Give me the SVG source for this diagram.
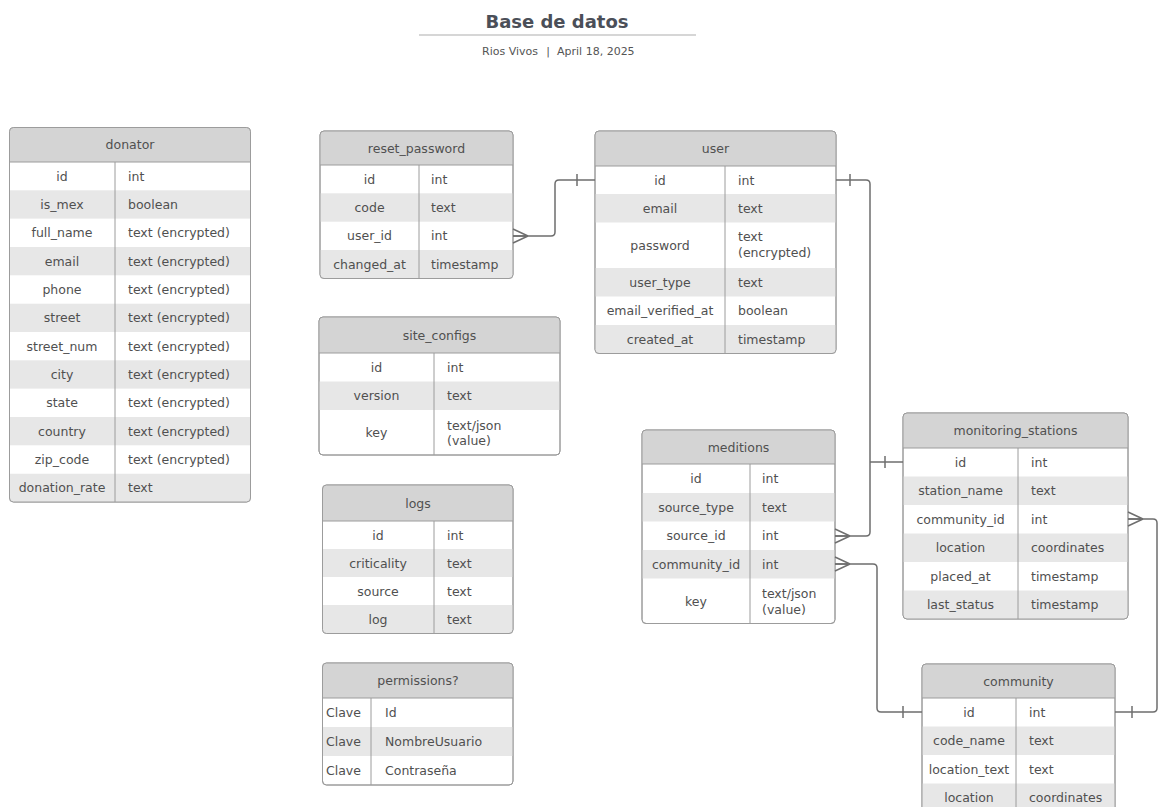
<svg xmlns="http://www.w3.org/2000/svg" width="1159" height="807" viewBox="0 0 1159 807">
  <style>
    .frame { fill: #ffffff; stroke: #9c9c9c; stroke-width: 1; }
    .edge { fill: none; stroke: #9c9c9c; stroke-width: 1; }
    .hdr { fill: #d4d4d4; }
    .alt { fill: #e7e7e7; }
    .sep { stroke: #9c9c9c; stroke-width: 1; }
    .t { font-family: "DejaVu Sans", "Liberation Sans", sans-serif; font-size: 12.5px; fill: #505050; }
    .c { text-anchor: middle; }
    .conn { fill: none; stroke: #6e6e6e; stroke-width: 1.5; }
    .title { font-family: "DejaVu Sans", "Liberation Sans", sans-serif; font-size: 18px; font-weight: bold; fill: #4b4f58; text-anchor: middle; }
    .sub { font-family: "DejaVu Sans", "Liberation Sans", sans-serif; font-size: 11px; fill: #555; }
  </style>

  <rect width="1159" height="807" fill="#ffffff"/>

  <!-- title block -->
  <g id="title">
    <text class="title" x="557" y="28">Base de datos</text>
    <line x1="419" y1="35" x2="696" y2="35" stroke="#c9c9c9" stroke-width="1.5"/>
    <text class="sub" x="538" y="55" text-anchor="end">Rios Vivos</text>
    <text class="sub" x="548" y="55" text-anchor="middle">|</text>
    <text class="sub" x="557" y="55">April 18, 2025</text>
  </g>

  <!-- donator -->
  <g id="donator">
    <rect class="frame" x="9.5" y="127.5" width="241" height="374.5" rx="4"/>
    <path class="hdr" d="M9.5,162 V131.5 Q9.5,127.5 13.5,127.5 H246.5 Q250.5,127.5 250.5,131.5 V162 Z"/>
    <rect class="alt" x="9.5" y="190.3" width="241" height="28.3"/>
    <rect class="alt" x="9.5" y="247" width="241" height="28.3"/>
    <rect class="alt" x="9.5" y="303.7" width="241" height="28.3"/>
    <rect class="alt" x="9.5" y="360.3" width="241" height="28.3"/>
    <rect class="alt" x="9.5" y="417" width="241" height="28.3"/>
    <path class="alt" d="M9.5,473.7 V498 Q9.5,502 13.5,502 H246.5 Q250.5,502 250.5,498 V473.7 Z"/>
    <line class="sep" x1="9.5" y1="162" x2="250.5" y2="162"/>
    <line class="sep" x1="115" y1="162" x2="115" y2="502"/>
    <rect class="edge" x="9.5" y="127.5" width="241" height="374.5" rx="4"/>
    <text class="t c" x="130" y="149">donator</text>
    <text class="t c" x="62" y="180.7">id</text><text class="t" x="128" y="180.7">int</text>
    <text class="t c" x="62" y="209">is_mex</text><text class="t" x="128" y="209">boolean</text>
    <text class="t c" x="62" y="237.3">full_name</text><text class="t" x="128" y="237.3">text (encrypted)</text>
    <text class="t c" x="62" y="265.7">email</text><text class="t" x="128" y="265.7">text (encrypted)</text>
    <text class="t c" x="62" y="294">phone</text><text class="t" x="128" y="294">text (encrypted)</text>
    <text class="t c" x="62" y="322.3">street</text><text class="t" x="128" y="322.3">text (encrypted)</text>
    <text class="t c" x="62" y="350.7">street_num</text><text class="t" x="128" y="350.7">text (encrypted)</text>
    <text class="t c" x="62" y="379">city</text><text class="t" x="128" y="379">text (encrypted)</text>
    <text class="t c" x="62" y="407.3">state</text><text class="t" x="128" y="407.3">text (encrypted)</text>
    <text class="t c" x="62" y="435.7">country</text><text class="t" x="128" y="435.7">text (encrypted)</text>
    <text class="t c" x="62" y="464">zip_code</text><text class="t" x="128" y="464">text (encrypted)</text>
    <text class="t c" x="62" y="492.3">donation_rate</text><text class="t" x="128" y="492.3">text</text>
  </g>

  <!-- reset_password -->
  <g id="reset_password">
    <rect class="frame" x="320" y="131" width="193" height="147.5" rx="4"/>
    <path class="hdr" d="M320,165 V135 Q320,131 324,131 H509 Q513,131 513,135 V165 Z"/>
    <rect class="alt" x="320" y="193.3" width="193" height="28.4"/>
    <path class="alt" d="M320,250 V274.5 Q320,278.5 324,278.5 H509 Q513,278.5 513,274.5 V250 Z"/>
    <line class="sep" x1="320" y1="165" x2="513" y2="165"/>
    <line class="sep" x1="419" y1="165" x2="419" y2="278.5"/>
    <rect class="edge" x="320" y="131" width="193" height="147.5" rx="4"/>
    <text class="t c" x="416.5" y="152.5">reset_password</text>
    <text class="t c" x="369.5" y="183.7">id</text><text class="t" x="431" y="183.7">int</text>
    <text class="t c" x="369.5" y="212">code</text><text class="t" x="431" y="212">text</text>
    <text class="t c" x="369.5" y="240.3">user_id</text><text class="t" x="431" y="240.3">int</text>
    <text class="t c" x="369.5" y="268.7">changed_at</text><text class="t" x="431" y="268.7">timestamp</text>
  </g>

  <!-- user -->
  <g id="user">
    <rect class="frame" x="595" y="131" width="241" height="222.5" rx="4"/>
    <path class="hdr" d="M595,166 V135 Q595,131 599,131 H832 Q836,131 836,135 V166 Z"/>
    <rect class="alt" x="595" y="194" width="241" height="28.5"/>
    <rect class="alt" x="595" y="268" width="241" height="28.5"/>
    <path class="alt" d="M595,325 V349.5 Q595,353.5 599,353.5 H832 Q836,353.5 836,349.5 V325 Z"/>
    <line class="sep" x1="595" y1="166" x2="836" y2="166"/>
    <line class="sep" x1="725" y1="166" x2="725" y2="353.5"/>
    <rect class="edge" x="595" y="131" width="241" height="222.5" rx="4"/>
    <text class="t c" x="715.5" y="153">user</text>
    <text class="t c" x="660" y="184.5">id</text><text class="t" x="738" y="184.5">int</text>
    <text class="t c" x="660" y="212.8">email</text><text class="t" x="738" y="212.8">text</text>
    <text class="t c" x="660" y="249.8">password</text><text class="t" x="738" y="241">text</text><text class="t" x="738" y="256.5">(encrypted)</text>
    <text class="t c" x="660" y="286.8">user_type</text><text class="t" x="738" y="286.8">text</text>
    <text class="t c" x="660" y="315.3">email_verified_at</text><text class="t" x="738" y="315.3">boolean</text>
    <text class="t c" x="660" y="343.8">created_at</text><text class="t" x="738" y="343.8">timestamp</text>
  </g>

  <!-- site_configs -->
  <g id="site_configs">
    <rect class="frame" x="319" y="317" width="241" height="138" rx="4"/>
    <path class="hdr" d="M319,353 V321 Q319,317 323,317 H556 Q560,317 560,321 V353 Z"/>
    <rect class="alt" x="319" y="381.5" width="241" height="28.5"/>
    <line class="sep" x1="319" y1="353" x2="560" y2="353"/>
    <line class="sep" x1="434" y1="353" x2="434" y2="455"/>
    <rect class="edge" x="319" y="317" width="241" height="138" rx="4"/>
    <text class="t c" x="439.5" y="339.5">site_configs</text>
    <text class="t c" x="376.5" y="371.8">id</text><text class="t" x="447" y="371.8">int</text>
    <text class="t c" x="376.5" y="400.3">version</text><text class="t" x="447" y="400.3">text</text>
    <text class="t c" x="376.5" y="437">key</text><text class="t" x="447" y="429.5">text/json</text><text class="t" x="447" y="445">(value)</text>
  </g>

  <!-- logs -->
  <g id="logs">
    <rect class="frame" x="322.5" y="485" width="190.5" height="148.5" rx="4"/>
    <path class="hdr" d="M322.5,521 V489 Q322.5,485 326.5,485 H509 Q513,485 513,489 V521 Z"/>
    <rect class="alt" x="322.5" y="549" width="190.5" height="28"/>
    <path class="alt" d="M322.5,605 V629.5 Q322.5,633.5 326.5,633.5 H509 Q513,633.5 513,629.5 V605 Z"/>
    <line class="sep" x1="322.5" y1="521" x2="513" y2="521"/>
    <line class="sep" x1="434" y1="521" x2="434" y2="633.5"/>
    <rect class="edge" x="322.5" y="485" width="190.5" height="148.5" rx="4"/>
    <text class="t c" x="418" y="507.5">logs</text>
    <text class="t c" x="378" y="539.5">id</text><text class="t" x="447" y="539.5">int</text>
    <text class="t c" x="378" y="567.5">criticality</text><text class="t" x="447" y="567.5">text</text>
    <text class="t c" x="378" y="595.5">source</text><text class="t" x="447" y="595.5">text</text>
    <text class="t c" x="378" y="623.5">log</text><text class="t" x="447" y="623.5">text</text>
  </g>

  <!-- permissions? -->
  <g id="permissions">
    <rect class="frame" x="322.5" y="663" width="190.5" height="122" rx="4"/>
    <path class="hdr" d="M322.5,698 V667 Q322.5,663 326.5,663 H509 Q513,663 513,667 V698 Z"/>
    <rect class="alt" x="322.5" y="727" width="190.5" height="29"/>
    <line class="sep" x1="322.5" y1="698" x2="513" y2="698"/>
    <line class="sep" x1="371" y1="698" x2="371" y2="785"/>
    <rect class="edge" x="322.5" y="663" width="190.5" height="122" rx="4"/>
    <text class="t c" x="418" y="685">permissions?</text>
    <text class="t" x="326" y="717">Clave</text><text class="t" x="385" y="717">Id</text>
    <text class="t" x="326" y="746">Clave</text><text class="t" x="385" y="746">NombreUsuario</text>
    <text class="t" x="326" y="775">Clave</text><text class="t" x="385" y="775">Contraseña</text>
  </g>

  <!-- meditions -->
  <g id="meditions">
    <rect class="frame" x="642" y="430" width="193" height="193.5" rx="4"/>
    <path class="hdr" d="M642,464 V434 Q642,430 646,430 H831 Q835,430 835,434 V464 Z"/>
    <rect class="alt" x="642" y="493" width="193" height="28.5"/>
    <rect class="alt" x="642" y="550" width="193" height="28.5"/>
    <line class="sep" x1="642" y1="464" x2="835" y2="464"/>
    <line class="sep" x1="750" y1="464" x2="750" y2="623.5"/>
    <rect class="edge" x="642" y="430" width="193" height="193.5" rx="4"/>
    <text class="t c" x="738.5" y="451.5">meditions</text>
    <text class="t c" x="696" y="483">id</text><text class="t" x="762" y="483">int</text>
    <text class="t c" x="696" y="511.8">source_type</text><text class="t" x="762" y="511.8">text</text>
    <text class="t c" x="696" y="540.3">source_id</text><text class="t" x="762" y="540.3">int</text>
    <text class="t c" x="696" y="568.8">community_id</text><text class="t" x="762" y="568.8">int</text>
    <text class="t c" x="696" y="605.5">key</text><text class="t" x="762" y="598">text/json</text><text class="t" x="762" y="613.5">(value)</text>
  </g>

  <!-- monitoring_stations -->
  <g id="monitoring_stations">
    <rect class="frame" x="903" y="413" width="225" height="206" rx="4"/>
    <path class="hdr" d="M903,448 V417 Q903,413 907,413 H1124 Q1128,413 1128,417 V448 Z"/>
    <rect class="alt" x="903" y="476.5" width="225" height="28.5"/>
    <rect class="alt" x="903" y="533.5" width="225" height="28.5"/>
    <path class="alt" d="M903,590.5 V615 Q903,619 907,619 H1124 Q1128,619 1128,615 V590.5 Z"/>
    <line class="sep" x1="903" y1="448" x2="1128" y2="448"/>
    <line class="sep" x1="1018" y1="448" x2="1018" y2="619"/>
    <rect class="edge" x="903" y="413" width="225" height="206" rx="4"/>
    <text class="t c" x="1015.5" y="435">monitoring_stations</text>
    <text class="t c" x="960.5" y="466.8">id</text><text class="t" x="1031" y="466.8">int</text>
    <text class="t c" x="960.5" y="495.3">station_name</text><text class="t" x="1031" y="495.3">text</text>
    <text class="t c" x="960.5" y="523.8">community_id</text><text class="t" x="1031" y="523.8">int</text>
    <text class="t c" x="960.5" y="552.3">location</text><text class="t" x="1031" y="552.3">coordinates</text>
    <text class="t c" x="960.5" y="580.8">placed_at</text><text class="t" x="1031" y="580.8">timestamp</text>
    <text class="t c" x="960.5" y="609.3">last_status</text><text class="t" x="1031" y="609.3">timestamp</text>
  </g>

  <!-- community (continues past the bottom edge) -->
  <g id="community">
    <rect class="frame" x="922" y="664" width="193" height="150" rx="4"/>
    <path class="hdr" d="M922,698 V668 Q922,664 926,664 H1111 Q1115,664 1115,668 V698 Z"/>
    <rect class="alt" x="922" y="726.5" width="193" height="28.5"/>
    <rect class="alt" x="922" y="783.5" width="193" height="28.5"/>
    <line class="sep" x1="922" y1="698" x2="1115" y2="698"/>
    <line class="sep" x1="1016" y1="698" x2="1016" y2="812"/>
    <rect class="edge" x="922" y="664" width="193" height="150" rx="4"/>
    <text class="t c" x="1018.5" y="685.5">community</text>
    <text class="t c" x="969" y="716.8">id</text><text class="t" x="1029" y="716.8">int</text>
    <text class="t c" x="969" y="745.3">code_name</text><text class="t" x="1029" y="745.3">text</text>
    <text class="t c" x="969" y="773.8">location_text</text><text class="t" x="1029" y="773.8">text</text>
    <text class="t c" x="969" y="802.3">location</text><text class="t" x="1029" y="802.3">coordinates</text>
  </g>

  <!-- relationships: bar = one, fork = many -->
  <g id="connectors" class="conn">
    <!-- reset_password.user_id >— user.id -->
    <path d="M513,236 H551 Q555,236 555,232 V184 Q555,180 559,180 H595"/>
    <path d="M513,229 L528,236 M513,236 H528 M513,243 L528,236"/>
    <path d="M577,174 V186"/>

    <!-- user.id —< meditions.source_id -->
    <path d="M836,180 H866 Q870,180 870,184 V532 Q870,536 866,536 H835"/>
    <path d="M850,174 V186"/>
    <path d="M835,529 L850,536 M835,536 H850 M835,543 L850,536"/>

    <!-- monitoring_stations.id —< meditions.source_id -->
    <path d="M903,462 H870"/>
    <path d="M885,456 V468"/>

    <!-- meditions.community_id >— community.id -->
    <path d="M835,564 H873 Q877,564 877,568 V708 Q877,712 881,712 H922"/>
    <path d="M835,557 L850,564 M835,564 H850 M835,571 L850,564"/>
    <path d="M903,706 V718"/>

    <!-- community.id —< monitoring_stations.community_id -->
    <path d="M1115,712 H1153 Q1157,712 1157,708 V523 Q1157,519 1153,519 H1128"/>
    <path d="M1132,706 V718"/>
    <path d="M1128,512 L1143,519 M1128,519 H1143 M1128,526 L1143,519"/>
  </g>
</svg>
